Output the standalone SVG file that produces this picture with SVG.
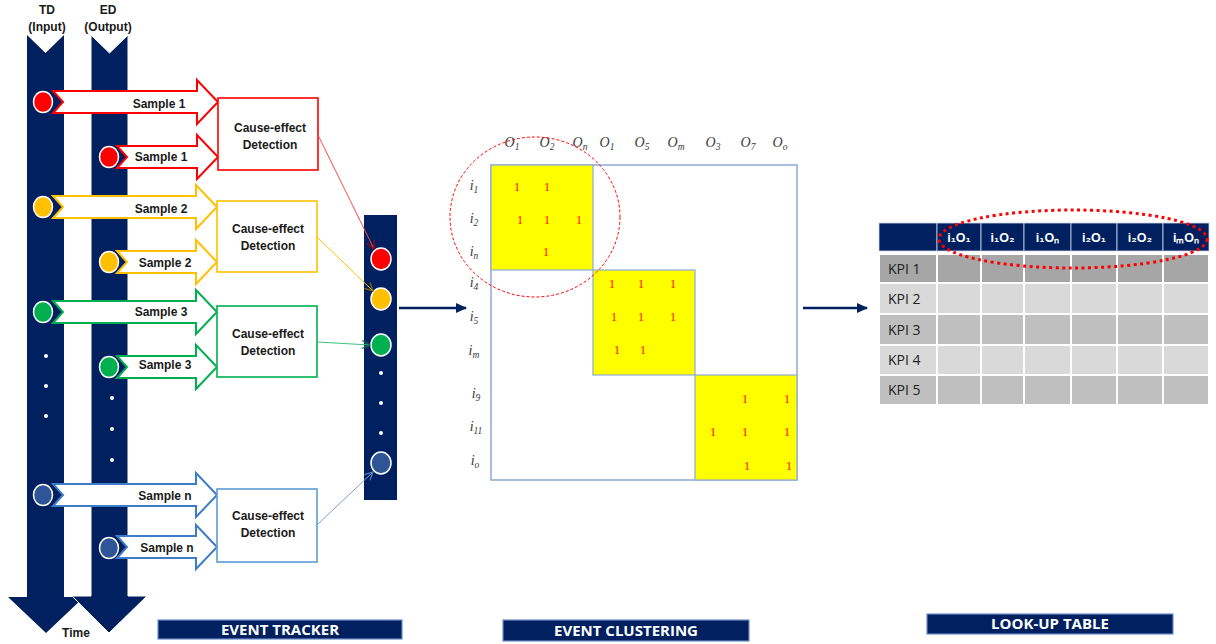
<svg xmlns="http://www.w3.org/2000/svg" width="1216" height="644" viewBox="0 0 1216 644">
<style>
.lbl{font-family:"Liberation Sans",Arial,sans-serif;font-weight:bold;font-size:12px;fill:#1a1a1a;text-anchor:middle}
.box{fill:#fff;stroke-width:1.6}
.sarr{fill:#fff;stroke-width:2}
.dot{fill:#fff}
.ev{stroke:#fff;stroke-width:1.5}
.mx{font-family:"Liberation Serif","Times New Roman",serif;font-style:italic;font-size:14px;fill:#3a3a3a;text-anchor:middle}
.sub{font-size:9.5px}
.one{font-family:"Liberation Serif","Times New Roman",serif;font-size:13px;fill:#ff2000;text-anchor:middle}
.hdr{font-family:"Liberation Sans",Arial,sans-serif;font-weight:bold;font-size:12.5px;fill:#fff;text-anchor:middle}
.kpi{font-family:"Open Sans","Liberation Sans",sans-serif;font-size:14px;fill:#222}
.ban{fill:#002060;stroke:#6d8cc8;stroke-width:1.2}
.bant{font-family:"Open Sans","Liberation Sans",sans-serif;font-weight:bold;font-size:15px;fill:#fff;text-anchor:middle}
</style>
<defs>
<marker id="mr" markerWidth="10" markerHeight="10" refX="9" refY="5" orient="auto" markerUnits="userSpaceOnUse"><path d="M1,1 L9,5 L1,9" fill="none" stroke="#b00000" stroke-width="1.2"/></marker>
<marker id="my" markerWidth="10" markerHeight="10" refX="9" refY="5" orient="auto" markerUnits="userSpaceOnUse"><path d="M1,1 L9,5 L1,9" fill="none" stroke="#8a6a00" stroke-width="1.2"/></marker>
<marker id="mg" markerWidth="10" markerHeight="10" refX="9" refY="5" orient="auto" markerUnits="userSpaceOnUse"><path d="M1,1 L9,5 L1,9" fill="none" stroke="#007a3a" stroke-width="1.2"/></marker>
<marker id="mb" markerWidth="10" markerHeight="10" refX="9" refY="5" orient="auto" markerUnits="userSpaceOnUse"><path d="M1,1 L9,5 L1,9" fill="none" stroke="#5a7fc0" stroke-width="1.2"/></marker>
<marker id="mn" markerWidth="12" markerHeight="12" refX="10" refY="6" orient="auto" markerUnits="userSpaceOnUse"><path d="M0,1 L11,6 L0,11 Z" fill="#002060"/></marker>
</defs>
<rect width="1216" height="644" fill="#fff"/>

<!-- Time arrows -->
<g id="td-arrow">
<path d="M27,35 L45.5,53 L64,35 L64,597 L84,597 L46,633 L8,597 L27,597 Z" fill="#002060"/>
<text class="lbl" x="47" y="14">TD</text>
<text class="lbl" x="47" y="31">(Input)</text>
</g>
<g id="ed-arrow">
<path d="M91,35 L109.5,53 L128,35 L128,596 L147,596 L109,633 L72,596 L91,596 Z" fill="#002060" stroke="#fff" stroke-width="1"/>
<text class="lbl" x="108" y="14">ED</text>
<text class="lbl" x="108" y="31">(Output)</text>
</g>
<text id="time-label" class="lbl" x="76" y="637">Time</text>

<!-- dots on time arrows -->
<g id="time-dots">
<circle class="dot" cx="46" cy="356" r="2"/><circle class="dot" cx="46" cy="386" r="2"/><circle class="dot" cx="46" cy="416" r="2"/>
<circle class="dot" cx="112" cy="398" r="2"/><circle class="dot" cx="112" cy="429" r="2"/><circle class="dot" cx="112" cy="460" r="2"/>
</g>

<!-- Red group -->
<g id="sample1-td">
<path class="sarr" stroke="#ff0000" d="M53,91 L197,91 L197,80 L218,102 L197,124 L197,113 L53,113 L63,102 Z"/>
<ellipse class="ev" cx="43" cy="102" rx="9.5" ry="10.5" fill="#ff0000"/>
<text class="lbl" x="159" y="108">Sample 1</text>
</g>
<g id="sample1-ed">
<path class="sarr" stroke="#ff0000" d="M117,146 L197,146 L197,135 L218,157 L197,179 L197,168 L117,168 L127,157 Z"/>
<ellipse class="ev" cx="109" cy="157" rx="9.5" ry="10.5" fill="#ff0000"/>
<text class="lbl" x="161" y="161">Sample 1</text>
</g>
<g id="ced1">
<rect class="box" stroke="#ff0000" x="218" y="98" width="100" height="72"/>
<text class="lbl" x="270" y="132">Cause-effect</text>
<text class="lbl" x="270" y="149">Detection</text>
</g>

<!-- Yellow group -->
<g id="sample2-td">
<path class="sarr" stroke="#ffc000" d="M53,196 L196,196 L196,185 L217,207 L196,229 L196,218 L53,218 L63,207 Z"/>
<ellipse class="ev" cx="43" cy="207" rx="9.5" ry="10.5" fill="#ffc000"/>
<text class="lbl" x="161" y="213">Sample 2</text>
</g>
<g id="sample2-ed">
<path class="sarr" stroke="#ffc000" d="M117,251 L196,251 L196,240 L217,262 L196,284 L196,273 L117,273 L127,262 Z"/>
<ellipse class="ev" cx="109" cy="262" rx="9.5" ry="10.5" fill="#ffc000"/>
<text class="lbl" x="165" y="267">Sample 2</text>
</g>
<g id="ced2">
<rect class="box" stroke="#ffc000" x="217" y="201" width="100" height="71"/>
<text class="lbl" x="268" y="233">Cause-effect</text>
<text class="lbl" x="268" y="250">Detection</text>
</g>

<!-- Green group -->
<g id="sample3-td">
<path class="sarr" stroke="#00b050" d="M53,301 L196,301 L196,290 L217,312 L196,334 L196,323 L53,323 L63,312 Z"/>
<ellipse class="ev" cx="43" cy="312" rx="9.5" ry="10.5" fill="#00b050"/>
<text class="lbl" x="161" y="316">Sample 3</text>
</g>
<g id="sample3-ed">
<path class="sarr" stroke="#00b050" d="M117,356 L196,356 L196,345 L217,367 L196,389 L196,378 L117,378 L127,367 Z"/>
<ellipse class="ev" cx="109" cy="367" rx="9.5" ry="10.5" fill="#00b050"/>
<text class="lbl" x="165" y="369">Sample 3</text>
</g>
<g id="ced3">
<rect class="box" stroke="#00b050" x="217" y="306" width="100" height="71"/>
<text class="lbl" x="268" y="338">Cause-effect</text>
<text class="lbl" x="268" y="355">Detection</text>
</g>

<!-- Blue group -->
<g id="samplen-td">
<path class="sarr" stroke="#3d7cc9" d="M53,484 L196,484 L196,473 L217,495 L196,517 L196,506 L53,506 L63,495 Z"/>
<ellipse class="ev" cx="43" cy="495" rx="9.5" ry="10.5" fill="#2f5597"/>
<text class="lbl" x="165" y="500">Sample n</text>
</g>
<g id="samplen-ed">
<path class="sarr" stroke="#3d7cc9" d="M117,536 L196,536 L196,525 L217,547 L196,569 L196,558 L117,558 L127,547 Z"/>
<ellipse class="ev" cx="109" cy="548" rx="9.5" ry="10.5" fill="#2f5597"/>
<text class="lbl" x="167" y="552">Sample n</text>
</g>
<g id="cedn">
<rect class="box" stroke="#5b9bd5" x="217" y="489" width="100" height="73"/>
<text class="lbl" x="268" y="520">Cause-effect</text>
<text class="lbl" x="268" y="537">Detection</text>
</g>

<!-- Event column -->
<g id="event-column">
<rect x="364" y="215" width="33" height="285" fill="#002060"/>
<ellipse class="ev" cx="381" cy="259" rx="10" ry="11" fill="#ff0000"/>
<ellipse class="ev" cx="381" cy="299" rx="10" ry="11" fill="#ffc000"/>
<ellipse class="ev" cx="381" cy="345" rx="10" ry="11" fill="#00b050"/>
<circle class="dot" cx="381" cy="373" r="2"/><circle class="dot" cx="381" cy="403" r="2"/><circle class="dot" cx="381" cy="433" r="2"/>
<ellipse class="ev" cx="381" cy="463" rx="10" ry="11" fill="#2f5597"/>
</g>

<!-- Connectors -->
<g id="connectors" fill="none">
<line x1="318" y1="135" x2="374" y2="249" stroke="#ff4a4a" stroke-width="1" marker-end="url(#mr)"/>
<line x1="317" y1="237" x2="373" y2="291" stroke="#ffc000" stroke-width="1" marker-end="url(#my)"/>
<line x1="317" y1="342" x2="370" y2="345" stroke="#3cc47c" stroke-width="1" marker-end="url(#mg)"/>
<line x1="317" y1="525" x2="373" y2="472" stroke="#7f9fd4" stroke-width="1" marker-end="url(#mb)"/>
<line x1="399" y1="308" x2="466" y2="308" stroke="#002060" stroke-width="2.5" marker-end="url(#mn)"/>
<line x1="803" y1="308" x2="867" y2="308" stroke="#002060" stroke-width="2.5" marker-end="url(#mn)"/>
</g>

<!-- Matrix -->
<g id="matrix">
<rect x="491" y="165" width="306" height="315" fill="#fff" stroke="#8eaad6" stroke-width="1.5"/>
<rect x="491" y="165" width="102" height="105" fill="#ffff00" stroke="#8eaad6" stroke-width="1.2"/>
<rect x="593" y="270" width="102" height="105" fill="#ffff00" stroke="#8eaad6" stroke-width="1.2"/>
<rect x="695" y="375" width="102" height="105" fill="#ffff00" stroke="#8eaad6" stroke-width="1.2"/>
<g id="col-labels">
<text class="mx" x="512" y="147">O<tspan class="sub" dy="3">1</tspan></text>
<text class="mx" x="547" y="147">O<tspan class="sub" dy="3">2</tspan></text>
<text class="mx" x="580" y="147">O<tspan class="sub" dy="3">n</tspan></text>
<text class="mx" x="607" y="147">O<tspan class="sub" dy="3">1</tspan></text>
<text class="mx" x="642" y="147">O<tspan class="sub" dy="3">5</tspan></text>
<text class="mx" x="676" y="147">O<tspan class="sub" dy="3">m</tspan></text>
<text class="mx" x="713" y="147">O<tspan class="sub" dy="3">3</tspan></text>
<text class="mx" x="748" y="147">O<tspan class="sub" dy="3">7</tspan></text>
<text class="mx" x="780" y="147">O<tspan class="sub" dy="3">o</tspan></text>
</g>
<g id="row-labels">
<text class="mx" x="474" y="190">i<tspan class="sub" dy="3">1</tspan></text>
<text class="mx" x="474" y="223">i<tspan class="sub" dy="3">2</tspan></text>
<text class="mx" x="474" y="256">i<tspan class="sub" dy="3">n</tspan></text>
<text class="mx" x="474" y="287">i<tspan class="sub" dy="3">4</tspan></text>
<text class="mx" x="474" y="321">i<tspan class="sub" dy="3">5</tspan></text>
<text class="mx" x="474" y="355">i<tspan class="sub" dy="3">m</tspan></text>
<text class="mx" x="476" y="398">i<tspan class="sub" dy="3">9</tspan></text>
<text class="mx" x="476" y="431">i<tspan class="sub" dy="3">11</tspan></text>
<text class="mx" x="475" y="465">i<tspan class="sub" dy="3">o</tspan></text>
</g>
<g id="ones">
<text class="one" x="517" y="191">1</text><text class="one" x="547" y="191">1</text>
<text class="one" x="520" y="224">1</text><text class="one" x="547" y="224">1</text><text class="one" x="579" y="224">1</text>
<text class="one" x="546" y="256">1</text>
<text class="one" x="612" y="288">1</text><text class="one" x="641" y="288">1</text><text class="one" x="673" y="288">1</text>
<text class="one" x="614" y="321">1</text><text class="one" x="641" y="321">1</text><text class="one" x="673" y="321">1</text>
<text class="one" x="617" y="354">1</text><text class="one" x="643" y="354">1</text>
<text class="one" x="745" y="403">1</text><text class="one" x="787" y="403">1</text>
<text class="one" x="713" y="436">1</text><text class="one" x="745" y="436">1</text><text class="one" x="787" y="436">1</text>
<text class="one" x="747" y="470">1</text><text class="one" x="789" y="470">1</text>
</g>
<ellipse cx="535" cy="217" rx="85" ry="80" fill="none" stroke="#ff0000" stroke-width="1" stroke-dasharray="3 2"/>
</g>

<!-- Look-up table -->
<g id="lookup-table">
<g fill="#002060" stroke="#d0d8e8" stroke-width="0.8">
<rect x="879" y="223" width="58" height="28"/>
<rect x="937" y="223" width="44" height="28"/>
<rect x="981" y="223" width="43" height="28"/>
<rect x="1024" y="223" width="47" height="28"/>
<rect x="1071" y="223" width="46" height="28"/>
<rect x="1117" y="223" width="46" height="28"/>
<rect x="1163" y="223" width="46" height="28"/>
</g>
<text class="hdr" x="959" y="242">i₁O₁</text>
<text class="hdr" x="1002.5" y="242">i₁O₂</text>
<text class="hdr" x="1047.5" y="242">i₁Oₙ</text>
<text class="hdr" x="1094" y="242">i₂O₁</text>
<text class="hdr" x="1140" y="242">i₂O₂</text>
<text class="hdr" x="1186" y="242">iₘOₙ</text>
<g stroke="#fff" stroke-width="2">
<g fill="#a6a6a6">
<rect x="879" y="254" width="58" height="29"/><rect x="937" y="254" width="44" height="29"/><rect x="981" y="254" width="43" height="29"/><rect x="1024" y="254" width="47" height="29"/><rect x="1071" y="254" width="46" height="29"/><rect x="1117" y="254" width="46" height="29"/><rect x="1163" y="254" width="46" height="29"/>
</g>
<g fill="#d9d9d9">
<rect x="879" y="283" width="58" height="31"/><rect x="937" y="283" width="44" height="31"/><rect x="981" y="283" width="43" height="31"/><rect x="1024" y="283" width="47" height="31"/><rect x="1071" y="283" width="46" height="31"/><rect x="1117" y="283" width="46" height="31"/><rect x="1163" y="283" width="46" height="31"/>
</g>
<g fill="#bfbfbf">
<rect x="879" y="314" width="58" height="31"/><rect x="937" y="314" width="44" height="31"/><rect x="981" y="314" width="43" height="31"/><rect x="1024" y="314" width="47" height="31"/><rect x="1071" y="314" width="46" height="31"/><rect x="1117" y="314" width="46" height="31"/><rect x="1163" y="314" width="46" height="31"/>
</g>
<g fill="#d9d9d9">
<rect x="879" y="345" width="58" height="30"/><rect x="937" y="345" width="44" height="30"/><rect x="981" y="345" width="43" height="30"/><rect x="1024" y="345" width="47" height="30"/><rect x="1071" y="345" width="46" height="30"/><rect x="1117" y="345" width="46" height="30"/><rect x="1163" y="345" width="46" height="30"/>
</g>
<g fill="#bfbfbf">
<rect x="879" y="375" width="58" height="30"/><rect x="937" y="375" width="44" height="30"/><rect x="981" y="375" width="43" height="30"/><rect x="1024" y="375" width="47" height="30"/><rect x="1071" y="375" width="46" height="30"/><rect x="1117" y="375" width="46" height="30"/><rect x="1163" y="375" width="46" height="30"/>
</g>
</g>
<text class="kpi" x="888" y="274">KPI 1</text>
<text class="kpi" x="888" y="304">KPI 2</text>
<text class="kpi" x="888" y="335">KPI 3</text>
<text class="kpi" x="888" y="365">KPI 4</text>
<text class="kpi" x="888" y="395">KPI 5</text>
<ellipse cx="1073" cy="239" rx="134" ry="29" fill="none" stroke="#ff0000" stroke-width="3" stroke-dasharray="3 3.5"/>
</g>

<!-- Banners -->
<g id="banner-tracker">
<rect class="ban" x="158" y="620" width="244" height="19"/>
<text class="bant" x="280" y="635">EVENT TRACKER</text>
</g>
<g id="banner-clustering">
<rect class="ban" x="503" y="620" width="246" height="21"/>
<text class="bant" x="626" y="636">EVENT CLUSTERING</text>
</g>
<g id="banner-lookup">
<rect class="ban" x="927" y="614" width="246" height="20"/>
<text class="bant" x="1050" y="629">LOOK-UP TABLE</text>
</g>
</svg>
